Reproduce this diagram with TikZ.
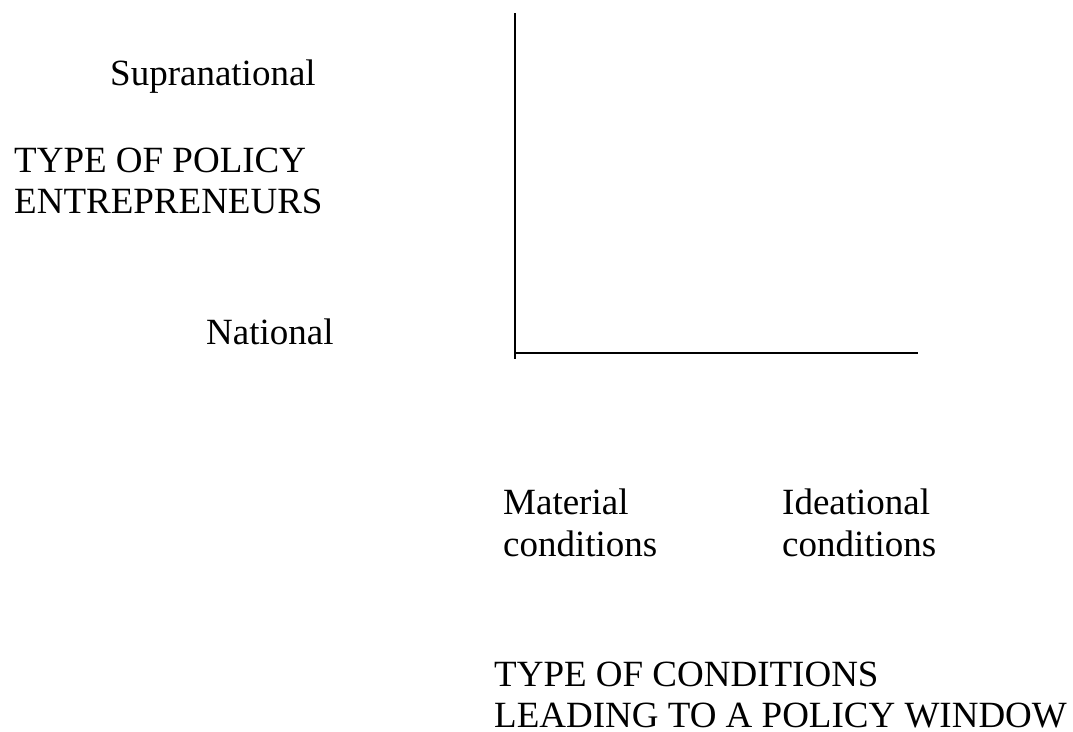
\documentclass[tikz,border=0pt]{standalone}
\usepackage{fontspec}
\setmainfont{Liberation Serif}
\begin{document}
\begin{tikzpicture}[x=1pt,y=-1pt,
  lbl/.style={anchor=base west,inner sep=0pt,font=\fontsize{37}{42}\selectfont},
  axisline/.style={line width=1.7pt,black}]
\useasboundingbox (0,0) rectangle (1073,731);
% axes
\coordinate (ytop) at (515,13);
\coordinate (ybot) at (515,359);
\coordinate (xleft) at (515,353);
\coordinate (xright) at (918,353);
\draw[axisline] (ytop) -- (ybot);
\draw[axisline] (xleft) -- (xright);
% vertical axis labels
\node[lbl] (supra) at (110,85) {Supranational};
\node[lbl] (ytitle1) at (14,172) {TYPE OF POLICY};
\node[lbl] (ytitle2) at (14,213) {ENTREPRENEURS};
\node[lbl] (nat) at (206,344) {National};
% horizontal axis labels
\node[lbl] (mat1) at (503,514) {Material};
\node[lbl] (mat2) at (503,556) {conditions};
\node[lbl] (idea1) at (782,514) {Ideational};
\node[lbl] (idea2) at (782,556) {conditions};
\node[lbl] (xtitle1) at (494,686) {TYPE OF CONDITIONS};
\node[lbl] (xtitle2) at (494,727) {LEADING TO A POLICY WINDOW};
\end{tikzpicture}
\end{document}
